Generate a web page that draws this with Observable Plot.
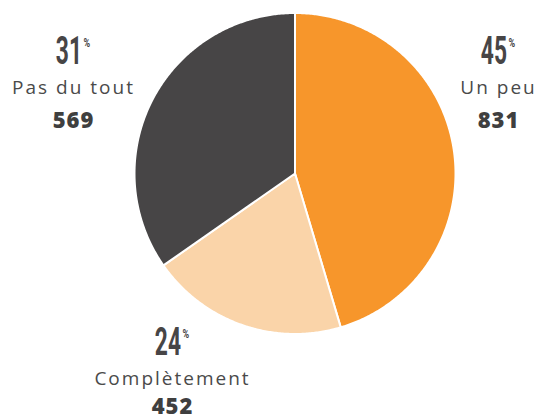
<!DOCTYPE html>
<html><head><meta charset="utf-8">
<script src="https://cdn.jsdelivr.net/npm/d3@7"></script>
<script src="https://cdn.jsdelivr.net/npm/@observablehq/plot@0.6"></script>
<style>body{margin:0;background:#fff}</style>
</head><body><div id="chart"></div>
<script>
// ---- data ----
const categories = ["Un peu", "Complètement", "Pas du tout"];
const counts = [831, 452, 569];
const percents = [45, 24, 31];
// angular share of each slice as drawn in the picture (%)
const sliceShares = [45.4, 19.9, 34.7];
const colors = ["#F7962B", "#FAD4A9", "#474546"];

// ---- layout ----
const W = 540, H = 418, CX = 294.5, CY = 173, R = 160.5;
// label group: center x, baseline of percent, baseline of label, baseline of count (px)
const labelLayout = [
  {cx: 498, p: 63, t: 93, n: 127},
  {cx: 172, p: 354, t: 384, n: 413},
  {cx: 73, p: 63, t: 93, n: 127}
];
const ux = px => (px - CX) / R;
const uy = py => (CY - py) / R;

// slice outlines in unit-circle coordinates
const pts = [];
const total = d3.sum(sliceShares);
let acc = 0;
sliceShares.forEach((s, i) => {
  const a0 = acc / total * 2 * Math.PI, a1 = (acc + s) / total * 2 * Math.PI;
  acc += s;
  pts.push({c: categories[i], x: 0, y: 0});
  const n = Math.max(2, Math.ceil((a1 - a0) / (Math.PI / 360)));
  for (let k = 0; k <= n; k++) {
    const a = a0 + (a1 - a0) * k / n;
    pts.push({c: categories[i], x: Math.sin(a), y: Math.cos(a)});
  }
  pts.push({c: categories[i], x: 0, y: 0});
});

const idx = d3.range(categories.length);
const txt = "#4a4a4a";

const chart = Plot.plot({
  width: W, height: H,
  marginTop: 0, marginRight: 0, marginBottom: 0, marginLeft: 0,
  x: {domain: [ux(0), ux(W)], range: [0, W], axis: null},
  y: {domain: [uy(H), uy(0)], range: [H, 0], axis: null},
  color: {domain: categories, range: colors},
  style: {background: "#fff", overflow: "hidden"},
  marks: [
    Plot.line(pts, {x: "x", y: "y", z: "c", fill: "c", stroke: "#fff", strokeWidth: 2, strokeLinejoin: "round", curve: "linear"}),
    // percent numbers
    Plot.text(idx, {
      x: i => ux(labelLayout[i].cx + 8.5), y: i => uy(labelLayout[i].p),
      text: i => String(percents[i]), textAnchor: "end", lineAnchor: "bottom",
      fontFamily: "Roboto", fontWeight: "bold", fontSize: 38, fill: "#474546"
    }),
    // percent sign
    Plot.text(idx, {
      x: i => ux(labelLayout[i].cx + 10), y: i => uy(labelLayout[i].p - 17),
      text: () => "%", textAnchor: "start", lineAnchor: "bottom",
      fontFamily: "Roboto", fontWeight: "bold", fontSize: 12, fill: "#474546"
    }),
    // category labels
    Plot.text(idx, {
      x: i => ux(labelLayout[i].cx), y: i => uy(labelLayout[i].t),
      text: i => categories[i], textAnchor: "middle", lineAnchor: "bottom",
      fontFamily: "Open Sans", fontSize: 19, fill: txt
    }),
    // counts
    Plot.text(idx, {
      x: i => ux(labelLayout[i].cx), y: i => uy(labelLayout[i].n),
      text: i => String(counts[i]), textAnchor: "middle", lineAnchor: "bottom",
      fontFamily: "Open Sans", fontWeight: 800, fontSize: 22, fill: "#3f3f3f"
    })
  ]
});
document.getElementById("chart").appendChild(chart);

// post-styling of text groups (by mark order)
const groups = d3.select(chart).selectAll('g[aria-label="text"]').nodes();
function squeeze(g, s) {
  d3.select(g).selectAll("text").each(function() {
    const t = this.getAttribute("transform");
    if (t) this.setAttribute("transform", t + ` scale(${s},1)`);
    else {
      const x = +this.getAttribute("x") || 0, y = +this.getAttribute("y") || 0;
      this.setAttribute("transform", `translate(${x},${y}) scale(${s},1)`);
      this.removeAttribute("x"); this.removeAttribute("y");
    }
  });
}
squeeze(groups[0], 0.6);
squeeze(groups[1], 0.75);
d3.select(groups[2]).style("letter-spacing", "2px");
d3.select(groups[3]).style("letter-spacing", "1px");
</script>
</body></html>
